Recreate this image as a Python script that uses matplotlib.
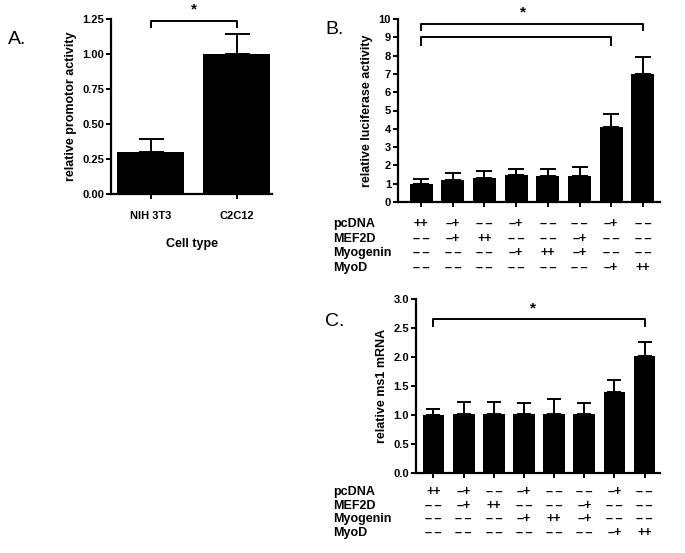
#!/usr/bin/env python3
"""
Three-panel bar figure: promoter activity (A), luciferase activity (B), ms1 mRNA (C).
"""

import numpy as np
import matplotlib.pyplot as plt
from matplotlib.transforms import blended_transform_factory

plt.rcParams['font.family'] = ['Liberation Sans', 'DejaVu Sans']
plt.rcParams['font.weight'] = 'bold'
plt.rcParams['axes.labelweight'] = 'bold'

# Panel A
cells = ['NIH 3T3', 'C2C12']
prom_mean = [0.30, 1.00]
prom_err = [0.095, 0.145]

# Panel B
luc_mean = [1.0, 1.2, 1.3, 1.5, 1.4, 1.4, 4.1, 7.0]
luc_err = [0.28, 0.4, 0.4, 0.33, 0.43, 0.5, 0.7, 0.95]

# Panel C
ms1_mean = [1.0, 1.02, 1.01, 1.02, 1.02, 1.01, 1.40, 2.02]
ms1_err = [0.10, 0.20, 0.21, 0.18, 0.25, 0.20, 0.20, 0.24]

# transfection table (same for B and C)
row_names = ['pcDNA', 'MEF2D', 'Myogenin', 'MyoD']
table = [
    ['++', '-+', '--', '-+', '--', '--', '-+', '--'],
    ['--', '-+', '++', '--', '--', '-+', '--', '--'],
    ['--', '--', '--', '-+', '++', '-+', '--', '--'],
    ['--', '--', '--', '--', '--', '--', '-+', '++'],
]

W, H = 685, 553
fig = plt.figure(figsize=(W / 100, H / 100), dpi=100)


def frac(x0, y0, x1, y1):
    # pixel box -> figure fraction rect
    return [x0 / W, 1 - y1 / H, (x1 - x0) / W, (y1 - y0) / H]


def style(ax):
    for s in ['top', 'right']:
        ax.spines[s].set_visible(False)
    for s in ['left', 'bottom']:
        ax.spines[s].set_linewidth(1.6)
    ax.tick_params(direction='out', width=1.4, length=3.5, labelsize=8, pad=1.5)


def bars(ax, means, errs, width, cap):
    x = np.arange(len(means))
    ax.bar(x, means, width=width, color='black', zorder=2)
    ax.errorbar(x, means, yerr=[np.zeros(len(errs)), errs], fmt='none',
                ecolor='black', elinewidth=1.4, capsize=cap, capthick=1.4, zorder=1)
    return x


def bracket(ax, i0, i1, y, drop):
    ax.plot([i0, i0, i1, i1], [y - drop, y, y, y - drop], color='black', lw=1.4,
            clip_on=False)


def sign_text(val):
    # '--' -> two short dashes, '-+' -> dash plus
    if val == '--':
        return '\u2013\u2009\u2013'
    if val == '-+':
        return '\u2013+'
    return val


def draw_table(ax, ys):
    tr = blended_transform_factory(ax.transData, fig.transFigure)
    for r, name in enumerate(row_names):
        yy = 1 - ys[r] / H
        fig.text(333 / W, yy, name, fontsize=9, ha='left', va='center')
        for c, val in enumerate(table[r]):
            ax.text(c, yy, sign_text(val), transform=tr, fontsize=9,
                    ha='center', va='center')


# ---- A ----
axA = fig.add_axes(frac(111, 19, 272, 194))
style(axA)
xa = bars(axA, prom_mean, prom_err, 0.78, 9)
axA.set_xlim(-0.465, 1.41)
axA.set_ylim(0, 1.25)
axA.set_yticks([0, 0.25, 0.5, 0.75, 1.0, 1.25])
axA.set_yticklabels(['0.00', '0.25', '0.50', '0.75', '1.00', '1.25'])
axA.set_xticks(xa)
axA.set_xticklabels(cells)
axA.tick_params(axis='x', pad=9)
axA.set_ylabel('relative promotor activity', fontsize=9, labelpad=4)
axA.set_xlabel('Cell type', fontsize=9, labelpad=12)
bracket(axA, 0, 1, 1.235, 0.045)
axA.text(0.5, 1.27, '*', ha='center', va='bottom', fontsize=11)
fig.text(8 / W, 1 - 40 / H, 'A.', fontsize=14, fontweight='normal', va='center')

# ---- B ----
axB = fig.add_axes(frac(398, 19, 660, 202))
style(axB)
xb = bars(axB, luc_mean, luc_err, 0.72, 6)
axB.set_xlim(-0.73, 7.54)
axB.set_ylim(0, 10)
axB.set_yticks(range(0, 11))
axB.set_xticks(xb)
axB.set_xticklabels([])
axB.set_ylabel('relative luciferase activity', fontsize=9, labelpad=4)
bracket(axB, 0, 7, 9.73, 0.35)
bracket(axB, 0, 6, 9.0, 0.4)
axB.text(3.2, 10.0, '*', ha='center', va='bottom', fontsize=11)
draw_table(axB, [224, 239, 253, 268])
fig.text(325 / W, 1 - 30 / H, 'B.', fontsize=14, fontweight='normal', va='center')

# ---- C ----
axC = fig.add_axes(frac(416, 299, 660, 473))
style(axC)
xc = bars(axC, ms1_mean, ms1_err, 0.72, 5)
axC.set_xlim(-0.58, 7.51)
axC.set_ylim(0, 3)
axC.set_yticks([0, 0.5, 1.0, 1.5, 2.0, 2.5, 3.0])
axC.set_yticklabels(['0.0', '0.5', '1.0', '1.5', '2.0', '2.5', '3.0'])
axC.set_xticks(xc)
axC.set_xticklabels([])
axC.set_ylabel('relative ms1 mRNA', fontsize=9, labelpad=4)
bracket(axC, 0, 7, 2.66, 0.12)
axC.text(3.3, 2.72, '*', ha='center', va='bottom', fontsize=11)
draw_table(axC, [492, 506, 519, 533])
fig.text(325 / W, 1 - 322 / H, 'C.', fontsize=14, fontweight='normal', va='center')

fig.savefig('out.png', dpi=100)
